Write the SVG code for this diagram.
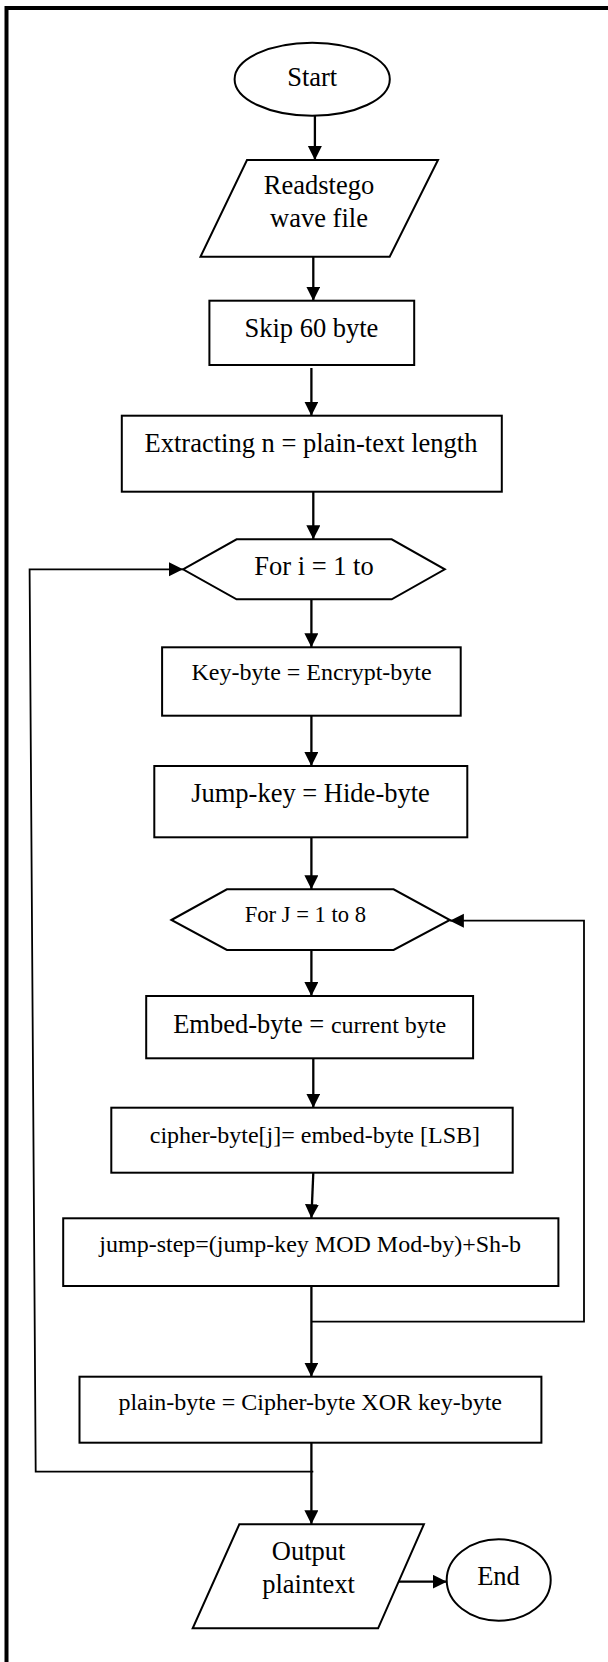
<svg xmlns="http://www.w3.org/2000/svg" width="608" height="1662" viewBox="0 0 608 1662">
<style>
.s{fill:#fff;stroke:#000;stroke-width:2}
.t{font-family:"Liberation Serif","Times New Roman",serif;font-size:26.5px;fill:#000;text-anchor:middle}
.m{font-size:24px}
.c{fill:none;stroke:#000;stroke-width:2.3}
.l{fill:none;stroke:#000;stroke-width:1.8}
</style>
<defs>
<marker id="ah" markerUnits="userSpaceOnUse" markerWidth="15" markerHeight="15" refX="14" refY="7" orient="auto">
<path d="M0,0 L14,7 L0,14 z" fill="#000"/>
</marker>
</defs>
<rect width="608" height="1662" fill="#fff"/>
<path d="M6.5,1662 V8 H608" fill="none" stroke="#000" stroke-width="4"/>
<g id="connectors">
<path class="c" d="M314.9,115.7 V160" marker-end="url(#ah)"/>
<path class="c" d="M313.3,256.7 V300.7" marker-end="url(#ah)"/>
<path class="c" d="M311.4,368 V415.7" marker-end="url(#ah)"/>
<path class="c" d="M313.3,491.7 V539.3" marker-end="url(#ah)"/>
<path class="c" d="M311.4,599.3 V647.3" marker-end="url(#ah)"/>
<path class="c" d="M311.4,715.7 V766" marker-end="url(#ah)"/>
<path class="c" d="M311.4,837.3 V889.3" marker-end="url(#ah)"/>
<path class="c" d="M311.4,950 V996" marker-end="url(#ah)"/>
<path class="c" d="M313.3,1058.3 V1107.7" marker-end="url(#ah)"/>
<path class="c" d="M313.3,1172.7 L311.4,1218.3" marker-end="url(#ah)"/>
<path class="c" d="M311.4,1286 V1376.7" marker-end="url(#ah)"/>
<path class="l" d="M311.4,1321.7 H584 V920.7 H449.9" marker-end="url(#ah)"/>
<path class="c" d="M311.4,1442.7 V1524.3" marker-end="url(#ah)"/>
<path class="l" d="M313.3,1471.7 H35.7 L29.6,569.3 H183" marker-end="url(#ah)"/>
<path class="c" d="M397.5,1581.7 H446.8" marker-end="url(#ah)"/>
</g>
<g id="start">
<ellipse class="s" cx="312.2" cy="79.2" rx="77.6" ry="36.5"/>
<text class="t" x="312.2" y="86">Start</text>
</g>
<g id="read">
<polygon class="s" points="247,160 438,160 389.7,256.7 200.5,256.7"/>
<text class="t" x="319" y="194">Readstego</text>
<text class="t" x="319" y="227">wave file</text>
</g>
<g id="skip">
<rect class="s" x="209.4" y="300.7" width="204.8" height="64.3"/>
<text class="t" x="311.4" y="337">Skip 60 byte</text>
</g>
<g id="extract">
<rect class="s" x="121.8" y="415.7" width="380" height="76"/>
<text class="t" x="311" y="451.7">Extracting n = plain-text length</text>
</g>
<g id="fori">
<polygon class="s" points="183,569.3 236.6,539.3 391.7,539.3 444.8,569.3 391.7,599.3 236.6,599.3"/>
<text class="t" x="314" y="575">For i = 1 to</text>
</g>
<g id="keybyte">
<rect class="s" x="162.1" y="647.3" width="298.6" height="68.4"/>
<text class="t m" x="311.6" y="680">Key-byte = Encrypt-byte</text>
</g>
<g id="jumpkey">
<rect class="s" x="154.3" y="766" width="313" height="71.3"/>
<text class="t" x="310.5" y="801.7">Jump-key = Hide-byte</text>
</g>
<g id="forj">
<polygon class="s" points="171.4,920 226.9,889.3 393.6,889.3 449.9,920 393.6,950 226.9,950"/>
<text class="t" x="305.4" y="921.7" style="font-size:22.6px">For J = 1 to 8</text>
</g>
<g id="embed">
<rect class="s" x="146.2" y="996" width="326.9" height="62.3"/>
<text class="t" x="309.7" y="1032.7">Embed-byte = <tspan class="m">current byte</tspan></text>
</g>
<g id="cipher">
<rect class="s" x="111.3" y="1107.7" width="401.4" height="65"/>
<text class="t m" x="314.9" y="1143.3">cipher-byte[j]= embed-byte [LSB]</text>
</g>
<g id="jumpstep">
<rect class="s" x="63.2" y="1218.3" width="495.2" height="67.7"/>
<text class="t m" x="310.2" y="1251.7">jump-step=(jump-key MOD Mod-by)+Sh-b</text>
</g>
<g id="plain">
<rect class="s" x="79.5" y="1376.7" width="461.9" height="66"/>
<text class="t m" x="310.2" y="1410">plain-byte = Cipher-byte XOR key-byte</text>
</g>
<g id="output">
<polygon class="s" points="239.3,1524.3 423.9,1524.3 378.1,1628.3 192.7,1628.3"/>
<text class="t" x="308.6" y="1560">Output</text>
<text class="t" x="308.6" y="1592.7">plaintext</text>
</g>
<g id="end">
<ellipse class="s" cx="498.7" cy="1580" rx="52" ry="40.7"/>
<text class="t" x="498.5" y="1585">End</text>
</g>
</svg>
